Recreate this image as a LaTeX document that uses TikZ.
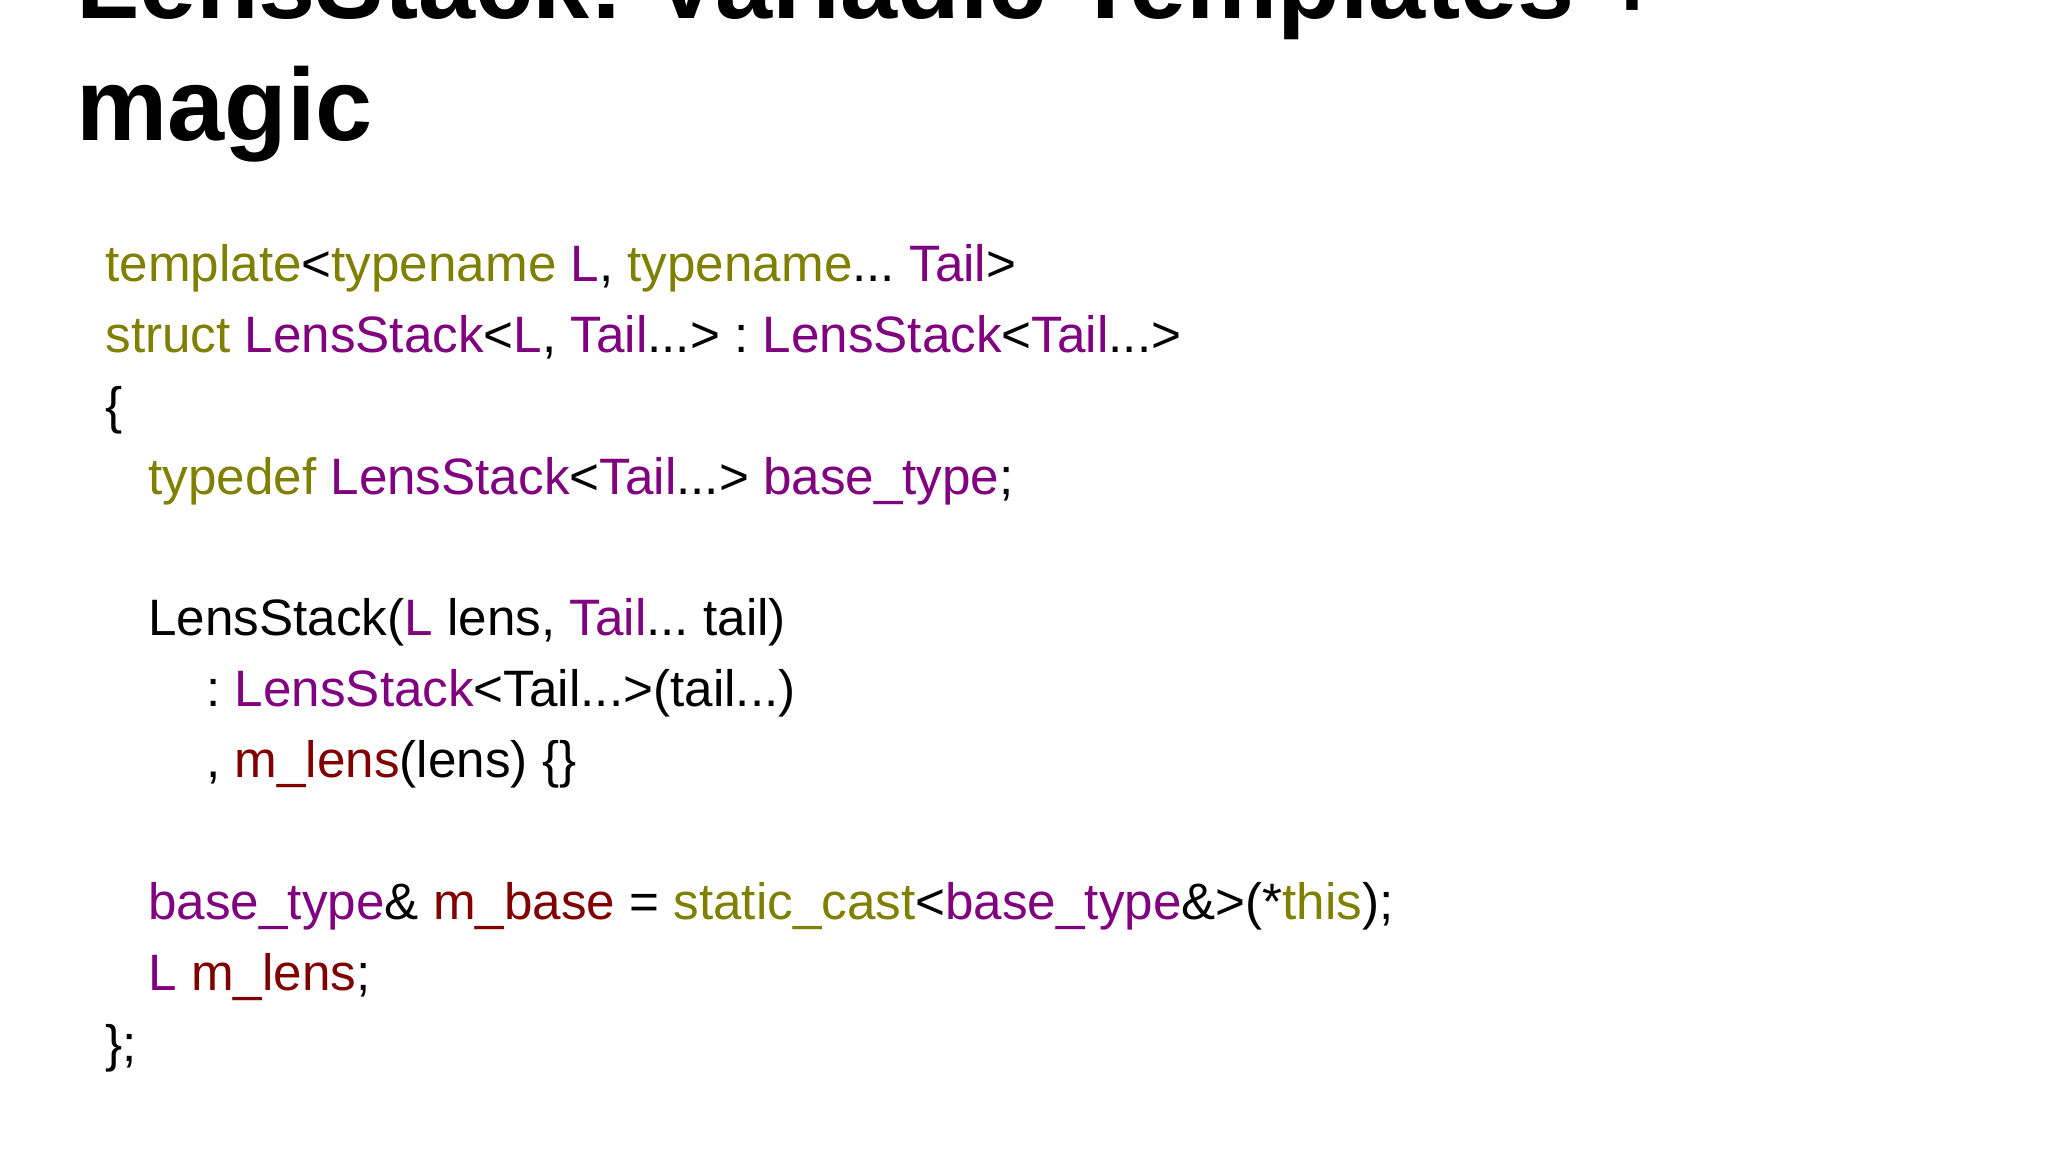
\documentclass[tikz,border=0pt]{standalone}
\usepackage{fontspec}
\setmainfont{Liberation Sans}
\frenchspacing
\definecolor{kw}{RGB}{128,128,0}
\definecolor{ty}{RGB}{128,0,128}
\definecolor{mb}{RGB}{128,0,0}
\newcommand{\K}[1]{\textcolor{kw}{#1}}
\newcommand{\T}[1]{\textcolor{ty}{#1}}
\newcommand{\M}[1]{\textcolor{mb}{#1}}
\begin{document}
\begin{tikzpicture}[x=0.5pt,y=-0.5pt,
  title/.style={anchor=base west,inner sep=0pt,font=\fontsize{51.3}{62}\selectfont\bfseries},
  code/.style={anchor=base west,inner sep=0pt,font=\fontsize{25.6}{31}\selectfont\frenchspacing}]
\useasboundingbox (0,0) rectangle (2048,1152);
\fill[white] (0,0) rectangle (2048,1152);
\node[title] (t1) at (76,18) {LensStack: Variadic Templates +};
\node[title] (t2) at (76,140) {magic};
\node[code] (c1) at (105,281) {\K{template}<\K{typename} \T{L}, \K{typename}... \T{Tail}>};
\node[code] (c2) at (105,352) {\K{struct} \T{LensStack}<\T{L}, \T{Tail}...> : \T{LensStack}<\T{Tail}...>};
\node[code] (c3) at (105,423) {\{};
\node[code] (c4) at (148,494) {\K{typedef} \T{LensStack}<\T{Tail}...> \T{base\_type};};
\node[code] (c5) at (148,635) {LensStack(\T{L} lens, \T{Tail}... tail)};
\node[code] (c6) at (206,706) {: \T{LensStack}<Tail...>(tail...)};
\node[code] (c7) at (206,777) {, \M{m\_lens}(lens) \{\}};
\node[code] (c8) at (148,919) {\T{base\_type}\& \M{m\_base} = \K{static\_cast}<\T{base\_type}\&>(*\K{this});};
\node[code] (c9) at (148,990) {\T{L} \M{m\_lens};};
\node[code] (c10) at (105,1061) {\};};
\end{tikzpicture}
\end{document}
